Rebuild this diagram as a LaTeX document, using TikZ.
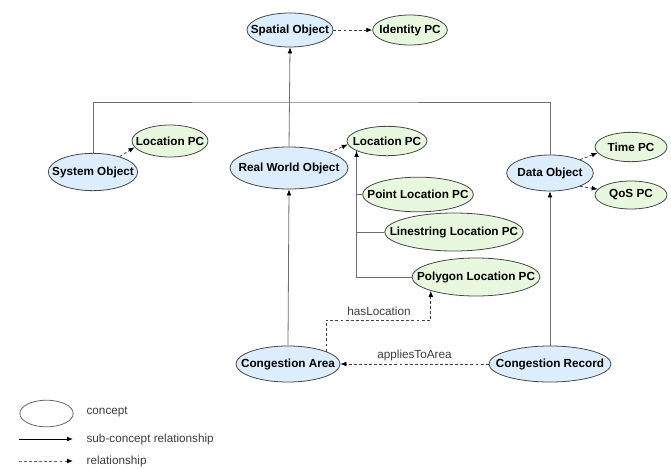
\documentclass[tikz,border=0pt]{standalone}
\usepackage{fontspec}
\setmainfont{Liberation Sans}
\usepackage{tikz}
\usetikzlibrary{arrows.meta,shapes.geometric}
\definecolor{clsblue}{HTML}{DCEEFD}
\definecolor{pcgreen}{HTML}{E8F8DE}
\definecolor{edgegrey}{HTML}{6E6E6E}
\definecolor{labelgrey}{HTML}{3C3C3C}
% label of zero width, so the ellipse keeps its given size
\newcommand{\ctext}[1]{\makebox[0pt]{#1}}
\tikzset{
	concept/.style={ellipse, draw=black!72, line width=0.6pt, inner sep=0pt, font=\fontsize{8.8}{10}\selectfont\bfseries},
	cls/.style={concept, fill=clsblue},
	pc/.style={concept, fill=pcgreen},
	tree/.style={draw=edgegrey, line width=0.6pt},
	subrel/.style={tree, -{Latex[length=4.5pt,width=3.6pt,color=black]}},
	rel/.style={draw=black!75, line width=0.6pt, dash pattern=on 2.2pt off 1.6pt, -{Latex[length=4.5pt,width=3.6pt,color=black]}},
	lbl/.style={text=labelgrey, font=\fontsize{8.8}{10}\selectfont, inner sep=1pt}
}

\begin{document}
\begin{tikzpicture}[x=0.75pt, y=-0.75pt]
		%%%%% START %%%%%
		\useasboundingbox (0, 0) rectangle (671, 468);
		
		\node[cls, minimum width=64.5pt, minimum height=25.5pt] (spatial) at (290, 30) {\ctext{Spatial Object}};
		\node[pc, minimum width=56pt, minimum height=22.5pt] (identity) at (410, 30) {\ctext{Identity PC}};
		\draw[rel] (spatial.east) -- (identity.west);
		
		\node[cls, minimum width=67pt, minimum height=28pt] (sysobj) at (93, 172) {\ctext{System Object}};
		\node[pc, minimum width=57pt, minimum height=24pt] (locpca) at (170, 141) {\ctext{Location PC}};
		\node[cls, minimum width=88.5pt, minimum height=31.5pt] (rwobj) at (289, 168) {\ctext{Real World Object}};
		\node[pc, minimum width=60pt, minimum height=22pt] (locpcb) at (387, 141) {\ctext{Location PC}};
		\node[cls, minimum width=65pt, minimum height=27pt] (dataobj) at (550, 173) {\ctext{Data Object}};
		\node[pc, minimum width=54pt, minimum height=22pt] (timepc) at (631, 147) {\ctext{Time PC}};
		\node[pc, minimum width=54pt, minimum height=21pt] (qospc) at (631, 195) {\ctext{QoS PC}};
		
		% sub-concepts of Spatial Object
		\coordinate (bus) at (289, 102);
		\draw[tree] (sysobj.north) |- (bus) -| (dataobj.north);
		\draw[subrel] (rwobj.north) -- (spatial.south);
		
		\draw[rel] (sysobj.30) -- (locpca.190);
		\draw[rel] (rwobj.21) -- (locpcb.185);
		\draw[rel] (dataobj.24) -- (timepc.190);
		\draw[rel] (dataobj.-24) -- (qospc.170);
		
		\node[pc, minimum width=83pt, minimum height=26pt] (pointpc) at (418, 194.5) {\ctext{Point Location PC}};
		\node[pc, minimum width=104pt, minimum height=28.5pt] (linepc) at (454, 232) {\ctext{Linestring Location PC}};
		\node[pc, minimum width=96pt, minimum height=28.5pt] (polypc) at (476, 277) {\ctext{Polygon Location PC}};
		
		\draw[tree] (pointpc.west) -| (locpcb.198);
		\draw[tree] (linepc.west) -| (locpcb.198);
		\draw[subrel] (polypc.west) -| (locpcb.198);
		
		\node[cls, minimum width=78pt, minimum height=27pt] (congarea) at (288, 364) {\ctext{Congestion Area}};
		\node[cls, minimum width=91.5pt, minimum height=27pt] (congrec) at (550, 364) {\ctext{Congestion Record}};
		
		\draw[subrel] (congarea.north) -- (rwobj.south);
		\draw[subrel] (congrec.north) -- (dataobj.south);
		
		\coordinate (hasbend) at (379, 320);
		\draw[rel] (congarea.18) |- (hasbend) node[lbl, above=2pt] {hasLocation} -| (polypc.197);
		\draw[rel] (congrec.west) -- (congarea.east) node[lbl, midway, above=1pt] {appliesToArea};
		
		% legend
		\node[concept, minimum width=40pt, minimum height=20pt, draw=black!60] (legconcept) at (46.5, 413.5) {};
		\node[lbl, anchor=west] (legconcepttext) at (85, 412) {concept};
		\coordinate (legsuba) at (19, 439);
		\coordinate (legsubb) at (73, 439);
		\draw[subrel, draw=black] (legsuba) -- (legsubb);
		\node[lbl, anchor=west] (legsubtext) at (85, 439) {sub-concept relationship};
		\coordinate (legrela) at (19, 461);
		\coordinate (legrelb) at (73, 461);
		\draw[rel, draw=black!60] (legrela) -- (legrelb);
		\node[lbl, anchor=west] (legreltext) at (85, 461) {relationship};
		
		%%%%% END %%%%%
	\end{tikzpicture}
\end{document}
